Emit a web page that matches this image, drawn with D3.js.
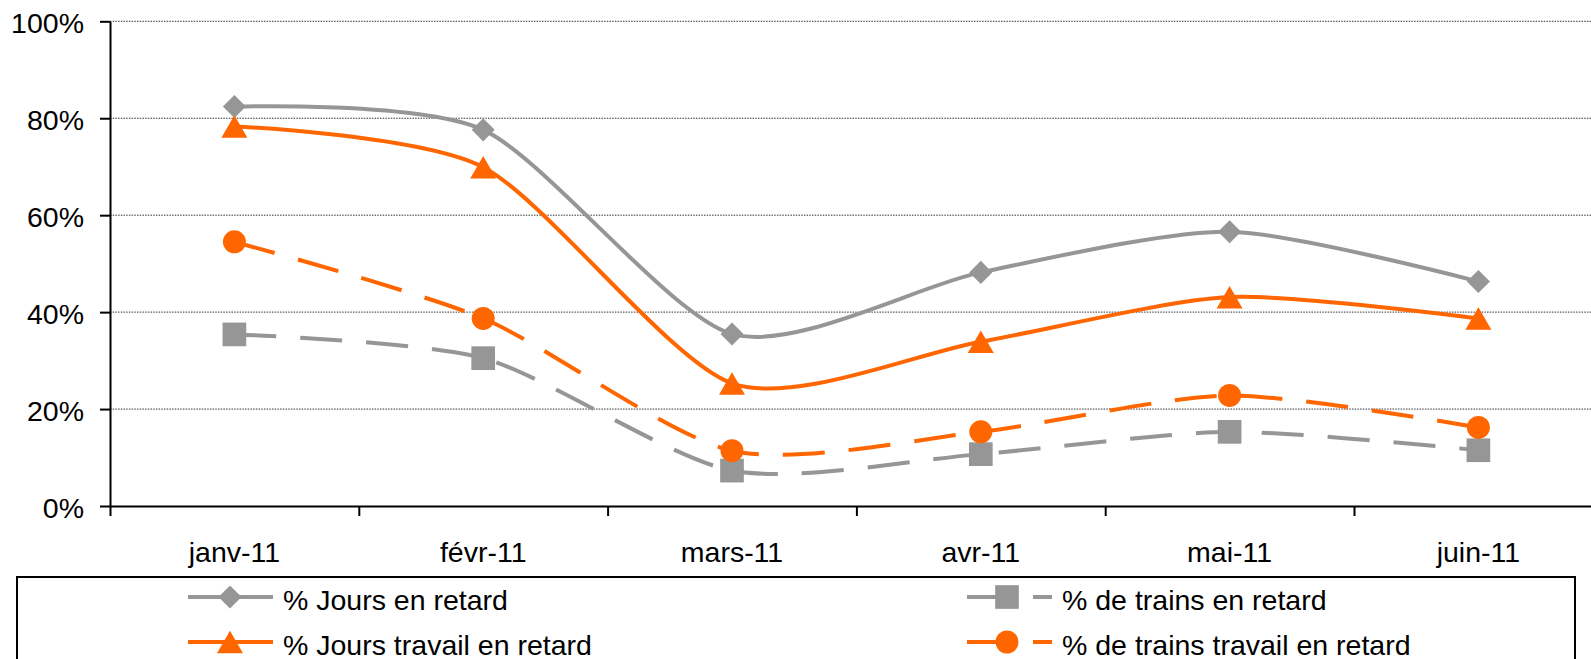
<!DOCTYPE html>
<html>
<head>
<meta charset="utf-8">
<script src="https://cdn.jsdelivr.net/npm/d3@7"></script>
<style>
  body { margin: 0; background: #fff; }
  svg { display: block; font-family: "Liberation Sans", Arial, sans-serif; }
</style>
</head>
<body>
<div id="chart"></div>
<script>
const months = ["janv-11", "févr-11", "mars-11", "avr-11", "mai-11", "juin-11"];

const joursRetard         = [0.824, 0.776, 0.355, 0.482, 0.566, 0.463];
const trainsRetard        = [0.354, 0.305, 0.073, 0.107, 0.153, 0.115];
const joursTravailRetard  = [0.783, 0.699, 0.253, 0.339, 0.431, 0.387];
const trainsTravailRetard = [0.545, 0.387, 0.114, 0.153, 0.228, 0.162];

const yTicks = [0, 0.2, 0.4, 0.6, 0.8, 1];

const gray = "#969696";
const orange = "#ff6600";

const series = [
  {name: "% Jours en retard",             values: joursRetard,         color: gray,   dashed: false, marker: "diamond"},
  {name: "% de trains en retard",         values: trainsRetard,        color: gray,   dashed: true,  marker: "square"},
  {name: "% Jours travail en retard",     values: joursTravailRetard,  color: orange, dashed: false, marker: "triangle"},
  {name: "% de trains travail en retard", values: trainsTravailRetard, color: orange, dashed: true,  marker: "circle"}
];

const width = 1591;
const height = 659;
const plotLeft = 110;
const plotTop = 21.3;
const plotBottom = 506;
const bandW = 248.8;
const fontSize = "28.5px";

const svg = d3.select("#chart")
      .append("svg")
      .attr("width", width)
      .attr("height", height);

const x = d3.scaleBand()
      .domain(months)
      .range([plotLeft, plotLeft + bandW * months.length]);

const xEdge = d3.scaleLinear()
      .domain([0, months.length])
      .range(x.range());

const y = d3.scaleLinear()
      .domain([0, 1])
      .range([plotBottom, plotTop]);

const px = (d, i) => x(months[i]) + x.bandwidth() / 2;

// gridlines
svg.append("g")
  .selectAll("line")
  .data(yTicks.filter(t => t > 0))
  .join("line")
  .attr("x1", plotLeft)
  .attr("x2", x.range()[1])
  .attr("y1", d => y(d))
  .attr("y2", d => y(d))
  .attr("stroke", "#333")
  .attr("stroke-width", 1)
  .attr("stroke-dasharray", "1.5,1.2");

// y axis
const yAxis = svg.append("g")
      .attr("transform", `translate(${plotLeft},0)`)
      .call(d3.axisLeft(y)
            .tickValues(yTicks)
            .tickFormat(d3.format(".0%"))
            .tickSize(10)
            .tickSizeOuter(0)
            .tickPadding(16));

yAxis.selectAll("text")
  .attr("font-size", fontSize)
  .attr("font-family", "Liberation Sans, Arial, sans-serif")
  .attr("fill", "#000")
  .attr("dy", "0.4em");

// x axis ticks at band edges
const xAxis = svg.append("g")
      .attr("transform", `translate(0,${plotBottom})`)
      .call(d3.axisBottom(xEdge)
            .tickValues(d3.range(months.length + 1))
            .tickFormat("")
            .tickSize(10)
            .tickSizeOuter(0));

const xLabels = svg.append("g")
      .attr("transform", `translate(0,${plotBottom})`)
      .call(d3.axisBottom(x).tickSize(0));

xLabels.select(".domain").remove();
xLabels.selectAll("text")
  .attr("font-size", fontSize)
  .attr("font-family", "Liberation Sans, Arial, sans-serif")
  .attr("fill", "#000")
  .attr("y", 56)
  .attr("dy", 0);

[yAxis, xAxis].forEach(a => {
  a.selectAll("path, line").attr("stroke", "#000").attr("stroke-width", 2);
});

const line = d3.line()
      .x(px)
      .y(d => y(d))
      .curve(d3.curveCardinal.tension(0.25));

const symbolPath = (marker) => {
  if (marker === "diamond") return d3.symbol(d3.symbolSquare, 265)();
  if (marker === "square") return d3.symbol(d3.symbolSquare, 560)();
  if (marker === "circle") return d3.symbol(d3.symbolCircle, 415)();
  return d3.symbol(d3.symbolTriangle, 293)();
};

const markerTransform = (marker, cx, cy) => {
  if (marker === "diamond") return `translate(${cx},${cy}) rotate(45)`;
  if (marker === "triangle") return `translate(${cx},${cy + 3.8})`;
  return `translate(${cx},${cy})`;
};

series.forEach(s => {
  svg.append("path")
    .datum(s.values)
    .attr("d", line)
    .attr("fill", "none")
    .attr("stroke", s.color)
    .attr("stroke-width", 4)
    .attr("stroke-dasharray", s.dashed ? "42,24" : null);

  svg.append("g")
    .selectAll("path")
    .data(s.values)
    .join("path")
    .attr("d", symbolPath(s.marker))
    .attr("transform", (d, i) => markerTransform(s.marker, px(d, i), y(d)))
    .attr("fill", s.color);
});

// legend
const legend = svg.append("g");

legend.append("rect")
  .attr("x", 17)
  .attr("y", 577)
  .attr("width", 1558)
  .attr("height", 140)
  .attr("fill", "none")
  .attr("stroke", "#000")
  .attr("stroke-width", 2);

const legendPos = [
  {x: 188, y: 597},
  {x: 967, y: 597},
  {x: 188, y: 642},
  {x: 967, y: 642}
];

series.forEach((s, i) => {
  const p = legendPos[i];
  const g = legend.append("g").attr("transform", `translate(${p.x},${p.y})`);

  g.append("line")
    .attr("x1", 0)
    .attr("x2", 85)
    .attr("stroke", s.color)
    .attr("stroke-width", 4)
    .attr("stroke-dasharray", s.dashed ? "51,15,19" : null);

  g.append("path")
    .attr("d", symbolPath(s.marker))
    .attr("transform", markerTransform(s.marker, s.dashed ? 40 : 42, 0))
    .attr("fill", s.color);

  g.append("text")
    .attr("x", 95)
    .attr("y", 13)
    .attr("font-size", fontSize)
    .attr("fill", "#000")
    .text(s.name);
});
</script>
</body>
</html>
